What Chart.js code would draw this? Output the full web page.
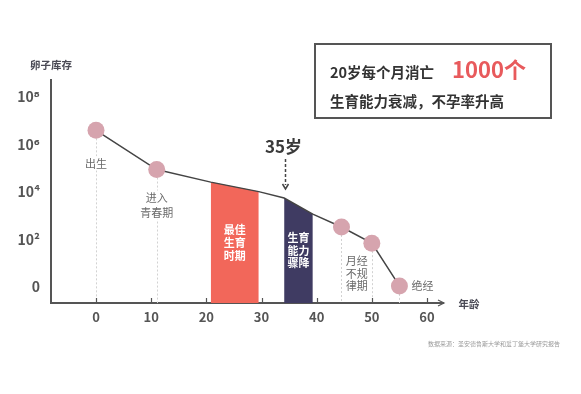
<!DOCTYPE html>
<html lang="zh">
<head>
<meta charset="utf-8">
<script src="https://cdn.jsdelivr.net/npm/chart.js@4.4.1/dist/chart.umd.min.js"></script>
<style>
  html, body { margin: 0; padding: 0; background: #fff; }
  #wrap { position: relative; width: 581px; height: 394px; }
</style>
</head>
<body>
<div id="wrap"><canvas id="c"></canvas></div>
<script>
// ---- data (y = exponent of egg stock, 10^y) ----
var AGES      = [0, 11, 20.8, 29.5, 34.1, 39.3, 44.5, 50, 55];
var STOCK_EXP = [6.6, 4.95, 4.42, 4.02, 3.75, 3.07, 2.53, 1.85, 0.05];
var MARKED    = [1, 1, 0, 0, 0, 0, 1, 1, 1];
var BEST_AGES = [20.8, 29.5], BEST_EXP = [4.42, 4.02];
var DROP_AGES = [34.1, 39.3], DROP_EXP = [3.75, 3.07];
var X_TICKS = [0, 10, 20, 30, 40, 50, 60];
var Y_TICKS = [0, 2, 4, 6, 8];
var Y_LABELS = ["0", "10²", "10⁴", "10⁶", "10⁸"];
var TURN_AGE = 34.2;

var FONT = "'Noto Sans CJK SC', 'DejaVu Sans', sans-serif";
var DARK = "#444444", RED = "#f2675a", NAVY = "#3f3b62", PINK = "#d6a4ae";

function pts(xs, ys) { return xs.map(function (v, i) { return { x: v, y: ys[i] }; }); }

function txt(c, s, x, y, size, color, weight, align) {
  c.font = (weight || "bold") + " " + size + "px " + FONT;
  c.fillStyle = color; c.textAlign = align || "center"; c.textBaseline = "middle";
  c.fillText(s, x, y);
}

var deco = {
  id: "deco",
  beforeDatasetsDraw: function (chart) {
    var c = chart.ctx, x = chart.scales.x, y = chart.scales.y, a = chart.chartArea;
    c.save();
    // dotted drop lines from the marked points
    c.strokeStyle = "#d2d2d2"; c.lineWidth = 1; c.setLineDash([2, 2]);
    AGES.forEach(function (age, i) {
      if (!MARKED[i]) return;
      var px = Math.round(x.getPixelForValue(age)) + 0.5;
      c.beginPath(); c.moveTo(px, y.getPixelForValue(STOCK_EXP[i])); c.lineTo(px, a.bottom); c.stroke();
    });
    c.setLineDash([]);
    // phase notes
    function note(lines, px, py, step) {
      lines.forEach(function (s, k) {
        c.font = "11px " + FONT;
        var w = c.measureText(s).width;
        c.fillStyle = "#fff"; c.fillRect(px - w / 2 - 1, py + k * step - 7, w + 2, 14);
        txt(c, s, px, py + k * step, 11, "#6a6a6a", "normal");
      });
    }
    note(["出生"], x.getPixelForValue(AGES[0]), y.getPixelForValue(STOCK_EXP[0]) + 33, 0);
    note(["进入", "青春期"], x.getPixelForValue(AGES[1]), y.getPixelForValue(STOCK_EXP[1]) + 28, 15);
    note(["月经", "不规", "律期"], (x.getPixelForValue(AGES[6]) + x.getPixelForValue(AGES[7])) / 2, 261, 12.5);
    note(["绝经"], x.getPixelForValue(AGES[8]) + 23, y.getPixelForValue(STOCK_EXP[8]), 0);
    // x-axis tick marks (pointing up) and arrow
    c.strokeStyle = "#555"; c.lineWidth = 1.2;
    X_TICKS.forEach(function (t) {
      var px = Math.round(x.getPixelForValue(t)) + 0.5;
      c.beginPath(); c.moveTo(px, a.bottom); c.lineTo(px, a.bottom - 5); c.stroke();
    });
    c.beginPath();
    c.moveTo(a.right - 5, a.bottom - 3); c.lineTo(a.right + 1, a.bottom); c.lineTo(a.right - 5, a.bottom + 3);
    c.stroke();
    c.restore();
  },
  afterDatasetsDraw: function (chart) {
    var c = chart.ctx, x = chart.scales.x, y = chart.scales.y;
    c.save();
    var bx = x.getPixelForValue((BEST_AGES[0] + BEST_AGES[1]) / 2);
    ["最佳", "生育", "时期"].forEach(function (s, k) { txt(c, s, bx, 230 + k * 13, 11, "#fff"); });
    var dx = x.getPixelForValue((DROP_AGES[0] + DROP_AGES[1]) / 2);
    ["生育", "能力", "骤降"].forEach(function (s, k) { txt(c, s, dx, 238 + k * 12.5, 11, "#fff"); });
    // 35岁 marker
    var tx = Math.round(x.getPixelForValue(TURN_AGE)) + 0.5;
    txt(c, "35岁", tx - 2, 147, 17, "#3a3a3a");
    c.strokeStyle = "#444"; c.lineWidth = 1.5; c.setLineDash([3, 2]);
    c.beginPath(); c.moveTo(tx, 159); c.lineTo(tx, 185); c.stroke();
    c.setLineDash([]);
    c.beginPath(); c.moveTo(tx - 3, 184); c.lineTo(tx, 189); c.lineTo(tx + 3, 184); c.stroke();
    c.restore();
  },
  afterDraw: function (chart) {
    var c = chart.ctx;
    c.save();
    txt(c, "卵子库存", 51, 65, 10.5, "#4a4a55");
    txt(c, "年龄", 469, 304, 10.5, "#4a4a55");
    // callout box
    c.strokeStyle = "#555"; c.lineWidth = 2;
    c.strokeRect(315, 44, 236, 74);
    txt(c, "20岁每个月消亡", 330, 72, 14.5, "#333", "bold", "left");
    txt(c, "1000个", 452, 70, 22, "#e85a5c", "bold", "left");
    txt(c, "生育能力衰减，不孕率升高", 330, 101, 14.5, "#333", "bold", "left");
    txt(c, "数据来源：圣安德鲁斯大学和爱丁堡大学研究报告", 560, 344, 6, "#9a9a9a", "normal", "right");
    c.restore();
  }
};

new Chart(document.getElementById("c"), {
  type: "line",
  data: {
    datasets: [
      { data: pts(AGES, STOCK_EXP), borderColor: DARK, borderWidth: 1.5, tension: 0,
        pointRadius: MARKED.map(function (m) { return m ? 8.5 : 0; }),
        pointBackgroundColor: PINK, pointBorderColor: PINK, pointBorderWidth: 0 },
      { data: pts(BEST_AGES, BEST_EXP), borderWidth: 0, pointRadius: 0, fill: "start", backgroundColor: RED },
      { data: pts(DROP_AGES, DROP_EXP), borderWidth: 0, pointRadius: 0, fill: "start", backgroundColor: NAVY }
    ]
  },
  options: {
    responsive: true, maintainAspectRatio: false, animation: false,
    layout: { padding: { left: 0, top: 80, right: 138, bottom: 0 } },
    plugins: { legend: { display: false }, tooltip: { enabled: false } },
    scales: {
      x: {
        type: "linear", min: -8.16, max: 62.9,
        grid: { display: false, drawTicks: false },
        border: { display: true, color: "#555", width: 2 },
        afterBuildTicks: function (s) { s.ticks = X_TICKS.map(function (v) { return { value: v }; }); },
        afterFit: function (s) { s.height = 91; },
        ticks: { padding: 6, color: "#555", font: { family: FONT, size: 13, weight: "bold" } }
      },
      y: {
        type: "linear", min: -0.67, max: 8.72,
        grid: { display: false, drawTicks: false },
        border: { display: true, color: "#555", width: 2 },
        afterBuildTicks: function (s) { s.ticks = Y_TICKS.map(function (v) { return { value: v }; }); },
        afterFit: function (s) { s.width = 51; },
        ticks: { padding: 11, color: "#555", font: { family: FONT, size: 14, weight: "bold" },
          callback: function (v) { return Y_LABELS[Y_TICKS.indexOf(v)]; } }
      }
    }
  },
  plugins: [deco]
});
</script>
</body>
</html>
